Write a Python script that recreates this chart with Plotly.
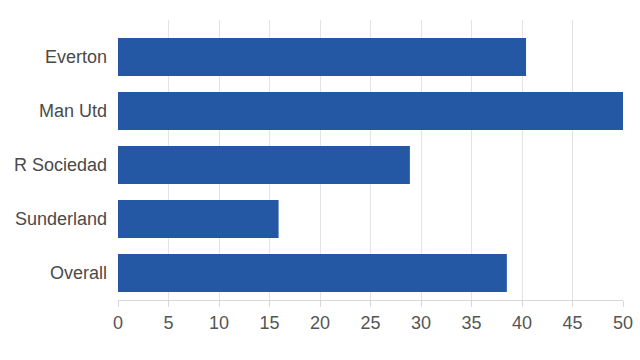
import plotly.graph_objects as go

teams = ["Everton", "Man Utd", "R Sociedad", "Sunderland", "Overall"]
values = [40.4, 50, 28.9, 15.9, 38.5]
x_ticks = [0, 5, 10, 15, 20, 25, 30, 35, 40, 45, 50]

fig = go.Figure(go.Bar(
    x=values, y=teams, orientation="h",
    marker=dict(color="#2457a4", line=dict(width=0)),
    width=0.7,
))

fig.update_layout(
    width=640, height=360,
    margin=dict(l=118, r=17, t=20, b=60, autoexpand=False),
    paper_bgcolor="white", plot_bgcolor="white",
    font=dict(family="Liberation Sans, Arial, sans-serif", size=18, color="#4a4a4a"),
    showlegend=False,
)
fig.update_xaxes(
    range=[0, 50], tickvals=x_ticks, ticktext=[str(v) for v in x_ticks],
    showgrid=True, gridcolor="#e3e3e3", gridwidth=1,
    showline=True, linecolor="#d8d8d8", linewidth=1,
    ticks="outside", ticklen=6, tickcolor="#d8d8d8",
    tickfont=dict(color="#555", size=18),
    zeroline=False, fixedrange=True, automargin=False,
)
fig.update_yaxes(
    type="category", categoryorder="array", categoryarray=teams,
    range=[4.5, -0.685],
    showgrid=False, showline=False, ticks="", ticklabelstandoff=10,
    tickfont=dict(color="#4a4a4a", size=18), automargin=False,
)

fig.write_html("out.html")
